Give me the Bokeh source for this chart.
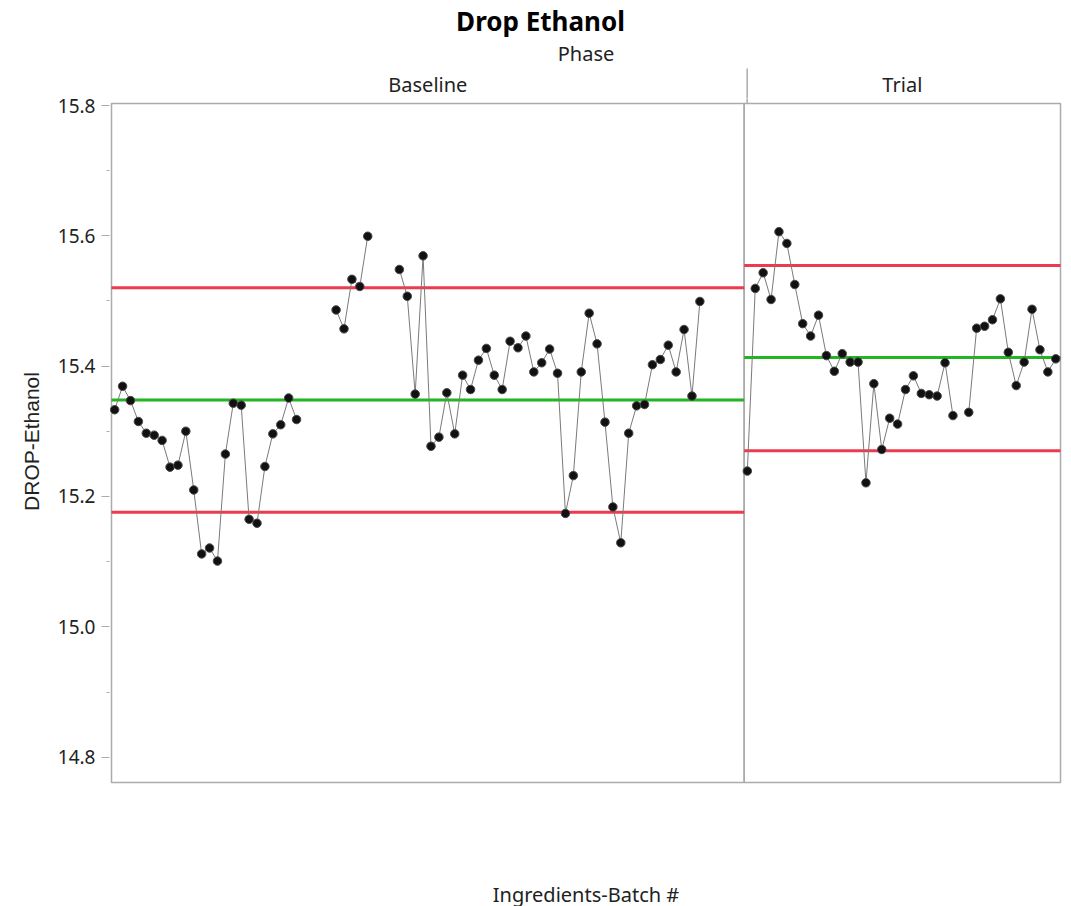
from bokeh.plotting import figure
from bokeh.layouts import column
from bokeh.models import Range1d, FixedTicker, PrintfTickFormatter, ColumnDataSource
from bokeh.core.properties import value
from bokeh.embed import file_html
from bokeh.resources import INLINE

NaN = float("nan")

# ---- data -------------------------------------------------------------
phase_names = ["Baseline", "Trial"]
phase_first_batch = [1, 81]
phase_last_batch = [80, 120]

phase_lcl = [15.176, 15.270]
phase_center = [15.348, 15.413]
phase_ucl = [15.520, 15.554]

# DROP-Ethanol per ingredients batch (NaN = no measurement)
baseline_drop = [
    15.333, 15.369, 15.347, 15.315, 15.297, 15.294, 15.286, 15.245, 15.248, 15.300,
    15.210, 15.112, 15.121, 15.101, 15.265, 15.343, 15.340, 15.165, 15.159, 15.246,
    15.296, 15.310, 15.351, 15.318, NaN, NaN, NaN, NaN, 15.486, 15.457,
    15.533, 15.522, 15.599, NaN, NaN, NaN, 15.548, 15.507, 15.357, 15.569,
    15.277, 15.291, 15.359, 15.296, 15.386, 15.364, 15.409, 15.427, 15.386, 15.364,
    15.438, 15.428, 15.446, 15.391, 15.405, 15.426, 15.389, 15.174, 15.232, 15.391,
    15.481, 15.434, 15.314, 15.184, 15.129, 15.297, 15.339, 15.341, 15.402, 15.410,
    15.432, 15.391, 15.456, 15.354, 15.499, NaN, NaN, NaN, NaN, NaN,
]
trial_drop = [
    15.239, 15.519, 15.543, 15.502, 15.606, 15.588, 15.525, 15.465, 15.446, 15.478,
    15.416, 15.392, 15.419, 15.406, 15.406, 15.221, 15.373, 15.272, 15.320, 15.311,
    15.364, 15.385, 15.358, 15.356, 15.354, 15.405, 15.324, NaN, 15.329, 15.458,
    15.461, 15.471, 15.503, 15.421, 15.370, 15.406, 15.487, 15.425, 15.391, 15.411,
]
phase_values = [baseline_drop, trial_drop]

y_axis_min, y_axis_max = 14.7615, 15.8025
y_major_ticks = [14.8, 15.0, 15.2, 15.4, 15.6, 15.8]
y_minor_ticks = [14.9, 15.1, 15.3, 15.5, 15.7]

# ---- geometry ---------------------------------------------------------
# Panel box: canvas x 111..1060, y 103..782.  The heading strip is a
# separate figure (rows 0..HEAD_H) sharing the same batch range; the chart
# frame starts a little above the box so the divider line stays unbroken.
BOX_LEFT, BOX_RIGHT, BOX_TOP, BOX_BOTTOM = 111, 1060, 103, 782
PAD = 2
HEAD_H = 98
CANVAS_W = 1071
FONT = "Noto Sans"
TEXT = "#222222"
FRAME_GREY = "#ABABAB"

x_lo = phase_first_batch[0] - 0.4
x_hi = phase_last_batch[-1] + 0.6
x_scale = (BOX_RIGHT - BOX_LEFT) / (x_hi - x_lo)              # px per batch
y_scale = (BOX_BOTTOM - BOX_TOP) / (y_axis_max - y_axis_min)  # px per unit

frame_left = BOX_LEFT - PAD
frame_w = (BOX_RIGHT - BOX_LEFT) + 2 * PAD
frame_right_border = CANVAS_W - frame_left - frame_w


def cx(canvas_x):
    """canvas pixel column -> batch coordinate"""
    return x_lo + (canvas_x - BOX_LEFT) / x_scale


def cy(canvas_y):
    """canvas pixel row -> value coordinate"""
    return y_axis_max + (BOX_TOP - canvas_y) / y_scale


xr = Range1d(x_lo - PAD / x_scale, x_hi + PAD / x_scale)

# ---- heading strip ----------------------------------------------------
head = figure(frame_width=frame_w, frame_height=HEAD_H,
              min_border_left=frame_left, min_border_right=frame_right_border,
              min_border_top=0, min_border_bottom=0,
              x_range=xr, y_range=Range1d(cy(HEAD_H), cy(0)),
              x_axis_location=None, y_axis_location=None,
              output_backend="svg", toolbar_location=None, tools="")
head.outline_line_color = None
head.xgrid.visible = False
head.ygrid.visible = False
head.background_fill_color = "white"
head.border_fill_color = "white"

panel_src = ColumnDataSource(dict(
    x0=[f - 0.4 for f in phase_first_batch],
    x1=[l + 0.6 for l in phase_last_batch],
    name=phase_names,
    mid=[(f - 0.4 + l + 0.6) / 2 for f, l in zip(phase_first_batch, phase_last_batch)],
    lcl=phase_lcl, cl=phase_center, ucl=phase_ucl,
))

head.text(x=[cx(540)], y=[cy(20)], text=["Drop Ethanol"], text_font=value(FONT),
          text_font_style="bold", text_font_size="26px", text_color="black",
          text_align="center", text_baseline="middle")
head.text(x=[cx((BOX_LEFT + BOX_RIGHT) / 2)], y=[cy(53)], text=["Phase"],
          text_font=value(FONT), text_font_size="20px", text_color=TEXT,
          text_align="center", text_baseline="middle")
head.text(x="mid", y=cy(84), text="name", source=panel_src, text_font=value(FONT),
          text_font_size="20px", text_color=TEXT, text_align="center",
          text_baseline="middle")

div_x = [l + 0.6 + 3 / x_scale for l in phase_last_batch[:-1]]
head.segment(x0=div_x, x1=div_x, y0=[cy(HEAD_H + 2)] * len(div_x),
             y1=[cy(68)] * len(div_x), line_color=FRAME_GREY, line_width=1.5)

# ---- chart ------------------------------------------------------------
p = figure(frame_width=frame_w, frame_height=BOX_BOTTOM + PAD - HEAD_H,
           min_border_left=frame_left, min_border_right=frame_right_border,
           min_border_top=0, min_border_bottom=10,
           x_range=xr, y_range=Range1d(y_axis_min - PAD / y_scale, cy(HEAD_H)),
           output_backend="svg", toolbar_location=None, tools="")
p.background_fill_color = "white"
p.border_fill_color = "white"
p.outline_line_color = None
p.xgrid.visible = False
p.ygrid.visible = False

ya = p.yaxis[0]
ya.bounds = (y_axis_min, y_axis_max)
ya.ticker = FixedTicker(ticks=y_major_ticks, minor_ticks=y_minor_ticks)
ya.formatter = PrintfTickFormatter(format="%.1f")
ya.axis_line_color = None
ya.major_tick_line_color = FRAME_GREY
ya.minor_tick_line_color = FRAME_GREY
ya.major_tick_in, ya.major_tick_out = 0, 10 - PAD
ya.minor_tick_in, ya.minor_tick_out = 0, 5 - PAD
ya.major_label_standoff = 6
ya.major_label_text_font = FONT
ya.major_label_text_font_size = "19px"
ya.major_label_text_color = TEXT
ya.axis_label = "DROP-Ethanol"
ya.axis_label_text_font = "Liberation Sans"
ya.axis_label_text_font_style = "normal"
ya.axis_label_text_font_size = "21px"
ya.axis_label_text_color = TEXT
ya.axis_label_standoff = 12

xa = p.xaxis[0]
xa.ticker = FixedTicker(ticks=[])
xa.axis_line_color = None
xa.major_tick_line_color = None
xa.minor_tick_line_color = None
xa.axis_label = "Ingredients-Batch #"
xa.axis_label_text_font = FONT
xa.axis_label_text_font_style = "normal"
xa.axis_label_text_font_size = "20px"
xa.axis_label_text_color = TEXT
xa.axis_label_standoff = 96

# phase panel boxes and the divider continuing from the heading strip
p.quad(left="x0", right="x1", bottom=y_axis_min, top=y_axis_max, source=panel_src,
       fill_color=None, line_color=FRAME_GREY, line_width=1.5)
p.segment(x0=div_x, x1=div_x, y0=[y_axis_max] * len(div_x),
          y1=[cy(HEAD_H - 2)] * len(div_x), line_color=FRAME_GREY, line_width=1.5)

# control limits per phase
p.segment(x0="x0", x1="x1", y0="ucl", y1="ucl", source=panel_src,
          line_color="#EC3A4E", line_width=3)
p.segment(x0="x0", x1="x1", y0="lcl", y1="lcl", source=panel_src,
          line_color="#EC3A4E", line_width=3)
p.segment(x0="x0", x1="x1", y0="cl", y1="cl", source=panel_src,
          line_color="#22B522", line_width=3)

# measurements per phase
for first, last, vals in zip(phase_first_batch, phase_last_batch, phase_values):
    src = ColumnDataSource(dict(batch=list(range(first, last + 1)), drop=vals))
    p.line("batch", "drop", source=src, line_color="#7A7A7A", line_width=1)
    p.scatter("batch", "drop", source=src, size=8.5, marker="circle",
              fill_color="#111111", line_color="#4A4A4A", line_width=1)

layout = column(head, p, spacing=0)
open("out.html", "w").write(file_html(layout, INLINE))
